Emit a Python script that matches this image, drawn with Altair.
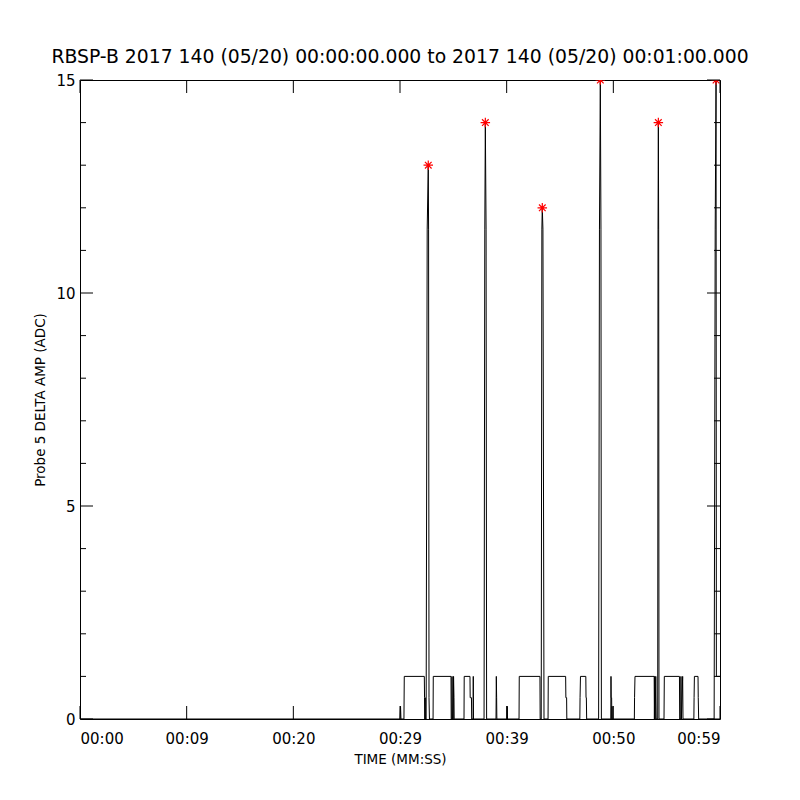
import altair as alt
import pandas as pd

# ---------------- data (time in seconds, amplitude in ADC) ----------------
seg_t = [
    [0, 30.00, 30.05, 30.09, 30.37, 30.40, 32.28, 32.30, 32.33, 32.36, 32.38],
    [32.45, 32.55, 32.65, 32.68, 32.72, 32.76],
    [33.10, 33.12, 34.78, 34.80, 34.86, 34.88, 34.92, 35.00, 35.02, 35.06, 35.08],
    [36.00, 36.02, 36.56, 36.58, 36.70, 36.72, 36.85, 36.87, 36.89],
    [37.88, 37.95, 38.00, 38.07, 38.12],
    [39.00, 39.03, 39.06, 39.08, 40.04, 40.06, 40.08, 41.16, 41.18, 43.12, 43.14],
    [43.24, 43.30, 43.34, 43.40, 43.50],
    [43.88, 43.90, 45.53, 45.55, 45.62, 45.64, 46.86, 46.88, 46.92, 47.42, 47.44, 47.47, 47.50],
    [48.62, 48.70, 48.78, 48.84, 48.88],
    [49.76, 49.78, 49.80, 49.84, 49.86, 49.88, 49.90, 51.97, 51.99, 52.03, 53.83, 53.85, 53.88, 53.92, 53.98, 54.02],
    [54.16, 54.19, 54.22, 54.25, 54.28],
    [54.75, 54.78, 56.20, 56.22, 56.32, 56.34, 56.38, 56.50, 56.53, 57.55, 57.57, 57.60, 57.94, 57.96, 58.00],
    [59.45, 59.55, 59.63, 59.66, 60.00],
]
seg_v = [
    [0, 0, 0.3, 0, 0, 1, 1, 0.5, 0, 0.5, 0],
    [0, 11.5, 13, 11.5, 0.5, 0],
    [0, 1, 1, 0, 0, 1, 0, 0, 1, 0.5, 0],
    [0, 1, 1, 0.5, 0.5, 0, 0, 1, 0],
    [0, 11.5, 14, 11.5, 0],
    [0, 1, 0.5, 0, 0, 0.3, 0, 0, 1, 1, 0],
    [0, 11.5, 12, 11.5, 0],
    [0, 1, 1, 0.5, 0.5, 0, 0, 0.5, 1, 1, 0.5, 0.5, 0],
    [0, 11.5, 15, 11.5, 0],
    [0, 1, 0.5, 0.5, 0, 0.3, 0, 0, 0.5, 1, 1, 0, 1, 0, 1, 0],
    [0, 11.5, 14, 11.5, 0],
    [0, 1, 1, 0, 0, 1, 0, 1, 0, 0, 0.5, 1, 1, 0.5, 0],
    [0, 11.5, 15, 1, 1],
]

peak_t = [32.65, 38.00, 43.34, 48.78, 54.22, 59.63]
peak_v = [13, 14, 12, 15, 14, 15]

x_ticks = [0, 10, 20, 30, 40, 50, 60]
x_labels = ["00:00", "00:09", "00:20", "00:29", "00:39", "00:50", "00:59"]
y_major = [0, 5, 10, 15]
y_minor = [1, 2, 3, 4, 6, 7, 8, 9, 11, 12, 13, 14]

TITLE = "RBSP-B 2017 140 (05/20) 00:00:00.000 to 2017 140 (05/20) 00:01:00.000"
X_TITLE = "TIME (MM:SS)"
Y_TITLE = "Probe 5 DELTA AMP (ADC)"

# ---------------- build tables ----------------
t_all, v_all = [], []
for a, b in zip(seg_t, seg_v):
    assert len(a) == len(b)
    t_all += a
    v_all += b
df = pd.DataFrame({"t": t_all, "v": v_all, "i": list(range(len(t_all)))})
peaks = pd.DataFrame({"t": peak_t, "v": peak_v})
xt = pd.DataFrame({"xt": x_ticks})
ymaj = pd.DataFrame({"yt": y_major})
ymin = pd.DataFrame({"yt": y_minor})

W, H = 640, 639
FONT = "DejaVu Sans"
MAJ, MIN = 13, 6

label_expr = "''"
for val, lab in reversed(list(zip(x_ticks, x_labels))):
    label_expr = f"datum.value == {val} ? '{lab}' : ({label_expr})"

xs = alt.Scale(domain=[0, 60], nice=False, zero=False)
ys = alt.Scale(domain=[0, 15], nice=False, zero=False)

line = alt.Chart(df).mark_line(color="black", strokeWidth=1, clip=True).encode(
    x=alt.X("t:Q", scale=xs,
            axis=alt.Axis(values=x_ticks, labelExpr=label_expr, title=X_TITLE,
                          labelPadding=12, titlePadding=6)),
    y=alt.Y("v:Q", scale=ys,
            axis=alt.Axis(values=y_major, format="d", title=Y_TITLE,
                          labelPadding=5, titlePadding=8)),
    order="i:Q",
)

asterisk = "M-1,0L1,0M0,-1L0,1M-0.7,-0.7L0.7,0.7M-0.7,0.7L0.7,-0.7"
marks = alt.Chart(peaks).mark_point(shape=asterisk, size=90, filled=False,
                                    stroke="#ff0000", strokeWidth=1.2,
                                    opacity=1, clip=True).encode(
    x=alt.X("t:Q", scale=xs),
    y=alt.Y("v:Q", scale=ys),
)

bottom_ticks = alt.Chart(xt).mark_rule(color="black", strokeWidth=1).encode(
    x=alt.X("xt:Q", scale=xs), y=alt.value(H), y2=alt.value(H - MAJ))
top_ticks = alt.Chart(xt).mark_rule(color="black", strokeWidth=1).encode(
    x=alt.X("xt:Q", scale=xs), y=alt.value(0), y2=alt.value(MAJ))
left_major = alt.Chart(ymaj).mark_rule(color="black", strokeWidth=1).encode(
    y=alt.Y("yt:Q", scale=ys), x=alt.value(0), x2=alt.value(MAJ))
right_major = alt.Chart(ymaj).mark_rule(color="black", strokeWidth=1).encode(
    y=alt.Y("yt:Q", scale=ys), x=alt.value(W), x2=alt.value(W - MAJ))
left_minor = alt.Chart(ymin).mark_rule(color="black", strokeWidth=1).encode(
    y=alt.Y("yt:Q", scale=ys), x=alt.value(0), x2=alt.value(MIN))
right_minor = alt.Chart(ymin).mark_rule(color="black", strokeWidth=1).encode(
    y=alt.Y("yt:Q", scale=ys), x=alt.value(W), x2=alt.value(W - MIN))

chart = alt.layer(
    line, marks,
    bottom_ticks, top_ticks, left_major, right_major, left_minor, right_minor,
).properties(
    width=W, height=H,
    background="white",
    title=alt.TitleParams(text=TITLE, font=FONT, fontSize=18.8, fontWeight="normal",
                          color="black", anchor="middle", offset=6),
    autosize=alt.AutoSizeParams(type="none"),
    padding={"left": 72, "top": 72, "right": 72, "bottom": 73},
).configure_view(
    stroke="black", strokeWidth=1,
).configure_axis(
    domain=False, ticks=False, grid=False,
    labelFont=FONT, labelFontSize=15, labelColor="black",
    titleFont=FONT, titleFontSize=13.5, titleFontWeight="normal", titleColor="black",
)

chart.save("out.html", embed_options={"renderer": "svg", "actions": False})
